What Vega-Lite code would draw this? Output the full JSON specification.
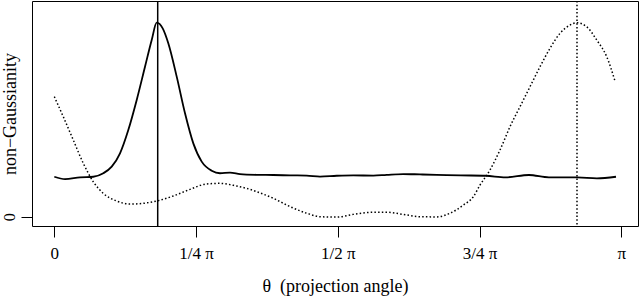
{
  "$schema": "https://vega.github.io/schema/vega-lite/v6.json",
  "autosize": {"type": "none"},
  "padding": {"left": 32, "top": 1, "right": 2, "bottom": 71},
  "width": 606,
  "height": 225,
  "background": "white",
  "config": {
    "view": {"stroke": "black", "strokeWidth": 1},
    "font": "Liberation Serif"
  },
  "datasets": {
    "curves": [
      {"theta": 0.0, "value": 0.206, "series": "solid"},
      {"theta": 0.0593, "value": 0.194, "series": "solid"},
      {"theta": 0.1424, "value": 0.203, "series": "solid"},
      {"theta": 0.2161, "value": 0.206, "series": "solid"},
      {"theta": 0.2715, "value": 0.224, "series": "solid"},
      {"theta": 0.318, "value": 0.258, "series": "solid"},
      {"theta": 0.364, "value": 0.327, "series": "solid"},
      {"theta": 0.41, "value": 0.447, "series": "solid"},
      {"theta": 0.4566, "value": 0.602, "series": "solid"},
      {"theta": 0.5025, "value": 0.773, "series": "solid"},
      {"theta": 0.5397, "value": 0.911, "series": "solid"},
      {"theta": 0.5674, "value": 1.0, "series": "solid"},
      {"theta": 0.6006, "value": 0.971, "series": "solid"},
      {"theta": 0.6316, "value": 0.894, "series": "solid"},
      {"theta": 0.6782, "value": 0.722, "series": "solid"},
      {"theta": 0.7242, "value": 0.533, "series": "solid"},
      {"theta": 0.7702, "value": 0.378, "series": "solid"},
      {"theta": 0.8167, "value": 0.284, "series": "solid"},
      {"theta": 0.8721, "value": 0.237, "series": "solid"},
      {"theta": 0.9181, "value": 0.224, "series": "solid"},
      {"theta": 0.9735, "value": 0.227, "series": "solid"},
      {"theta": 1.0289, "value": 0.220, "series": "solid"},
      {"theta": 1.1214, "value": 0.216, "series": "solid"},
      {"theta": 1.2134, "value": 0.215, "series": "solid"},
      {"theta": 1.3059, "value": 0.213, "series": "solid"},
      {"theta": 1.3985, "value": 0.212, "series": "solid"},
      {"theta": 1.4722, "value": 0.207, "series": "solid"},
      {"theta": 1.5647, "value": 0.211, "series": "solid"},
      {"theta": 1.6567, "value": 0.213, "series": "solid"},
      {"theta": 1.7675, "value": 0.212, "series": "solid"},
      {"theta": 1.8417, "value": 0.216, "series": "solid"},
      {"theta": 1.9337, "value": 0.220, "series": "solid"},
      {"theta": 2.0262, "value": 0.218, "series": "solid"},
      {"theta": 2.1188, "value": 0.216, "series": "solid"},
      {"theta": 2.2523, "value": 0.213, "series": "solid"},
      {"theta": 2.3908, "value": 0.211, "series": "solid"},
      {"theta": 2.4995, "value": 0.203, "series": "solid"},
      {"theta": 2.6297, "value": 0.215, "series": "solid"},
      {"theta": 2.7404, "value": 0.203, "series": "solid"},
      {"theta": 2.8957, "value": 0.203, "series": "solid"},
      {"theta": 3.0064, "value": 0.198, "series": "solid"},
      {"theta": 3.1122, "value": 0.206, "series": "solid"},
      {"theta": 0.0, "value": 0.619, "series": "dotted"},
      {"theta": 0.0499, "value": 0.515, "series": "dotted"},
      {"theta": 0.1053, "value": 0.395, "series": "dotted"},
      {"theta": 0.1607, "value": 0.275, "series": "dotted"},
      {"theta": 0.2161, "value": 0.18, "series": "dotted"},
      {"theta": 0.2715, "value": 0.12, "series": "dotted"},
      {"theta": 0.3457, "value": 0.081, "series": "dotted"},
      {"theta": 0.4194, "value": 0.065, "series": "dotted"},
      {"theta": 0.4931, "value": 0.069, "series": "dotted"},
      {"theta": 0.5729, "value": 0.082, "series": "dotted"},
      {"theta": 0.6593, "value": 0.107, "series": "dotted"},
      {"theta": 0.7519, "value": 0.141, "series": "dotted"},
      {"theta": 0.8444, "value": 0.169, "series": "dotted"},
      {"theta": 0.9181, "value": 0.172, "series": "dotted"},
      {"theta": 1.0106, "value": 0.158, "series": "dotted"},
      {"theta": 1.0843, "value": 0.141, "series": "dotted"},
      {"theta": 1.1214, "value": 0.129, "series": "dotted"},
      {"theta": 1.2134, "value": 0.095, "series": "dotted"},
      {"theta": 1.3059, "value": 0.052, "series": "dotted"},
      {"theta": 1.3985, "value": 0.018, "series": "dotted"},
      {"theta": 1.4722, "value": 0.0, "series": "dotted"},
      {"theta": 1.5647, "value": -0.002, "series": "dotted"},
      {"theta": 1.6567, "value": 0.012, "series": "dotted"},
      {"theta": 1.7675, "value": 0.023, "series": "dotted"},
      {"theta": 1.8417, "value": 0.023, "series": "dotted"},
      {"theta": 1.9337, "value": 0.012, "series": "dotted"},
      {"theta": 2.0262, "value": 0.0, "series": "dotted"},
      {"theta": 2.1188, "value": -0.001, "series": "dotted"},
      {"theta": 2.1925, "value": 0.018, "series": "dotted"},
      {"theta": 2.2662, "value": 0.06, "series": "dotted"},
      {"theta": 2.3216, "value": 0.103, "series": "dotted"},
      {"theta": 2.3587, "value": 0.163, "series": "dotted"},
      {"theta": 2.4141, "value": 0.241, "series": "dotted"},
      {"theta": 2.4695, "value": 0.344, "series": "dotted"},
      {"theta": 2.5249, "value": 0.464, "series": "dotted"},
      {"theta": 2.5803, "value": 0.567, "series": "dotted"},
      {"theta": 2.6357, "value": 0.67, "series": "dotted"},
      {"theta": 2.6911, "value": 0.773, "series": "dotted"},
      {"theta": 2.7465, "value": 0.868, "series": "dotted"},
      {"theta": 2.8019, "value": 0.945, "series": "dotted"},
      {"theta": 2.8573, "value": 0.988, "series": "dotted"},
      {"theta": 2.8945, "value": 1.0, "series": "dotted"},
      {"theta": 2.9499, "value": 0.979, "series": "dotted"},
      {"theta": 3.0053, "value": 0.911, "series": "dotted"},
      {"theta": 3.0607, "value": 0.825, "series": "dotted"},
      {"theta": 3.1067, "value": 0.699, "series": "dotted"}
    ],
    "maxima": [
      {"theta": 0.5729, "series": "solid"},
      {"theta": 2.8961, "series": "dotted"}
    ]
  },
  "layer": [
    {
      "data": {"name": "curves"},
      "transform": [{"filter": "datum.series === 'solid'"}],
      "mark": {"type": "line", "color": "black", "strokeWidth": 1.8, "interpolate": "monotone"},
      "encoding": {
        "x": {
          "field": "theta", "type": "quantitative",
          "scale": {"domain": [-0.1236, 3.2341], "nice": false, "zero": false},
          "axis": {
            "values": [0, 0.7853981634, 1.5707963268, 2.3561944902, 3.1415926536],
            "labelExpr": "datum.value < 0.1 ? '0' : datum.value < 1 ? '1/4 π' : datum.value < 2 ? '1/2 π' : datum.value < 3 ? '3/4 π' : 'π'",
            "grid": false, "domain": false,
            "tickSize": 11, "tickColor": "black", "tickWidth": 1,
            "labelFont": "Liberation Serif", "labelFontSize": 17, "labelColor": "black",
            "labelPadding": 21, "labelBaseline": "alphabetic",
            "title": "θ\u00a0\u00a0(projection angle)",
            "titleFont": "Liberation Serif", "titleFontSize": 18, "titleFontWeight": "normal", "titleColor": "black",
            "titleBaseline": "alphabetic", "titleY": 65
          }
        },
        "y": {
          "field": "value", "type": "quantitative",
          "scale": {"domain": [-0.0479, 1.1119], "nice": false, "zero": false},
          "axis": {
            "values": [0],
            "labelExpr": "'0'",
            "grid": false, "domain": false,
            "tickSize": 11, "tickColor": "black", "tickWidth": 1,
            "labelFont": "Liberation Serif", "labelFontSize": 16, "labelColor": "black",
            "labelAngle": 270, "labelAlign": "center", "labelBaseline": "alphabetic", "labelPadding": 7,
            "title": "non−Gaussianity",
            "titleFont": "Liberation Serif", "titleFontSize": 18, "titleFontWeight": "normal", "titleColor": "black",
            "titleAngle": 270, "titleAlign": "center", "titleBaseline": "middle",
            "titleX": -22, "titleY": 112.5
          }
        }
      }
    },
    {
      "data": {"name": "curves"},
      "transform": [{"filter": "datum.series === 'dotted'"}],
      "mark": {"type": "line", "color": "black", "strokeWidth": 1.5, "strokeDash": [1.5, 2.2], "interpolate": "monotone"},
      "encoding": {
        "x": {"field": "theta", "type": "quantitative"},
        "y": {"field": "value", "type": "quantitative"}
      }
    },
    {
      "data": {"name": "maxima"},
      "transform": [{"filter": "datum.series === 'solid'"}],
      "mark": {"type": "rule", "color": "black", "strokeWidth": 1.5},
      "encoding": {"x": {"field": "theta", "type": "quantitative"}}
    },
    {
      "data": {"name": "maxima"},
      "transform": [{"filter": "datum.series === 'dotted'"}],
      "mark": {"type": "rule", "color": "black", "strokeWidth": 1.5, "strokeDash": [1.5, 2.2]},
      "encoding": {"x": {"field": "theta", "type": "quantitative"}}
    }
  ]
}
